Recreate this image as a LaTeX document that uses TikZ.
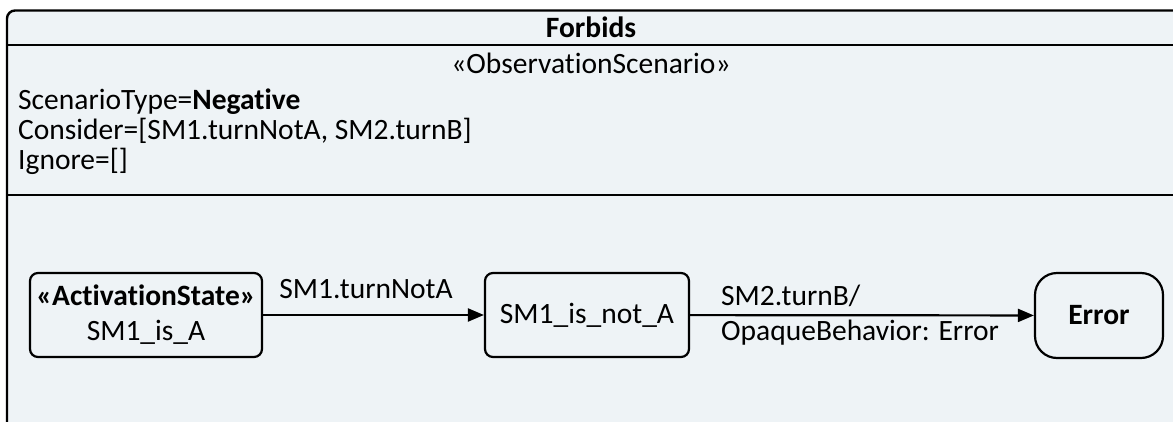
\documentclass[tikz,border=0pt]{standalone}
\usepackage{fontspec}
\setmainfont{Carlito}[Ligatures=NoCommon]
\usetikzlibrary{arrows.meta}
\definecolor{bgfill}{RGB}{238,243,246}
\begin{document}
\begin{tikzpicture}[x=1pt,y=-1pt,
  txt/.style={font=\fontsize{29.5}{32}\selectfont, inner sep=0pt},
  statebox/.style={draw, line width=2.2pt, rounded corners=8pt, align=center, inner sep=0pt,
    font=\fontsize{29.5}{35}\selectfont},
  trans/.style={line width=2.2pt, -{Triangle[length=16pt,width=13pt]}}]
\useasboundingbox (0,0) rectangle (1173,421);
\clip (0,0) rectangle (1173,421);
\draw[line width=2.4pt, fill=bgfill, rounded corners=8pt] (7,10.5) rectangle (1190,440);
\draw[line width=2.4pt] (7,45) -- (1190,45);
\draw[line width=2.4pt] (7,195) -- (1190,195);
\node[txt, font=\fontsize{29.5}{32}\selectfont\bfseries] (title) at (591,27) {Forbids};
\node[txt] (stereo) at (591,63) {«ObservationScenario»};
\node[txt, anchor=base west] (st) at (18,109) {ScenarioType=\textbf{Negative}};
\node[txt, anchor=base west] (co) at (18,139) {Consider=[SM1.turnNotA, SM2.turnB]};
\node[txt, anchor=base west] (ig) at (18,169) {Ignore=[]};
\node[statebox, minimum width=232pt, minimum height=84pt] (s1) at (146,315)
  {\textbf{«ActivationState»}\\SM1\_is\_A};
\node[statebox, minimum width=204pt, minimum height=84pt] (s2) at (587,315)
  {SM1\_is\_not\_A};
\node[statebox, rounded corners=22pt, minimum width=128pt, minimum height=85pt] (err) at (1099,315.5)
  {\textbf{Error}};
\draw[trans] (s1) -- (s2);
\draw[trans] (s2) -- (err);
\node[txt, anchor=base] (l1) at (366,298) {SM1.turnNotA};
\node[txt, anchor=base west] (l2a) at (721,305) {SM2.turnB/};
\node[txt, anchor=base west] (l2b) at (721,340) {OpaqueBehavior: Error};
\end{tikzpicture}
\end{document}
